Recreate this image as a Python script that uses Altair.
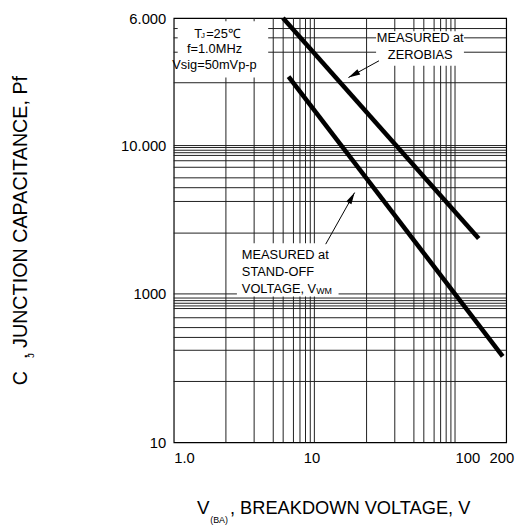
import altair as alt
import pandas as pd

FONT = "Liberation Sans, Arial, Helvetica, sans-serif"

# ---------------- axes (log-log) ----------------
x_domain = [1, 231]
x_tick_values = [1, 10, 100, 200]
x_tick_labels = ["1.0", "10", "100", "200"]
x_grid_values = [2.35, 3.73, 5.1, 6.0, 7.1, 7.9, 8.65, 9.35, 10,
                 23.5, 37.3, 51, 60, 71, 79, 86.5, 93.5, 100]

y_domain = [10, 7230]
y_tick_values = [10, 100, 1000, 7230]
y_tick_labels = ["10", "1000", "10.000", "6.000"]
y_grid_values = [25.7, 41.7, 50.9, 59.3, 69.1, 79.7, 83.0, 86.5, 90.1, 93.8, 100,
                 257, 420, 520, 606, 714, 790, 858, 895, 930, 970, 1000,
                 2651, 4258, 5323, 6148]

# ---------------- curves ----------------
zero_bias_v = [5.98, 147.4]
zero_bias_c = [7230, 236]
standoff_v = [6.55, 218.3]
standoff_c = [2918, 38.0]

# ---------------- annotations ----------------
box_x1 = [1.067, 27.46, 2.813]
box_x2 = [4.695, 115.7, 14.86]
box_y1 = [2874, 3453, 96.2]
box_y2 = [6874, 5899, 219.9]

note_text = ["T", "J", "=25\u2103", "f=1.0MHz", "Vsig=50mVp-p",
             "MEASURED at", "ZEROBIAS",
             "MEASURED at", "STAND-OFF", "VOLTAGE, V", "WM"]
note_x = [1.397, 1.565, 1.70, 1.949, 1.949, 56.6, 56.6, 3.05, 3.05, 3.05, 10.3]
note_y = [5634, 5465, 5634, 4479, 3469, 5301, 4105, 183, 141.1, 107.1, 104.7]
note_size = [13, 8, 13, 13, 13, 13, 13, 13, 13, 13, 9]
note_align = ["left", "left", "left", "center", "center", "center", "center",
              "left", "left", "left", "left"]

arrow_x1 = [28.8, 12.04]
arrow_y1 = [3727, 216.5]
arrow_x2 = [17.47, 19.33]
arrow_y2 = [2874, 482]
arrow_angle = [241.3, 29.3]

xs = alt.Scale(type="log", domain=x_domain, nice=False)
ys = alt.Scale(type="log", domain=y_domain, nice=False)


def label_expr(vals, labels):
    parts = [f"datum.value == {v} ? '{l}' : " for v, l in zip(vals, labels)]
    return "".join(parts) + "''"


x_axis = alt.Axis(values=x_tick_values, labelExpr=label_expr(x_tick_values, x_tick_labels),
                  grid=False, ticks=False, domain=False, labelFontSize=15,
                  labelPadding=8, labelFlush=False, labelOverlap=False,
                  labelAlign={"condition": {"test": "datum.value == 1 || datum.value == 100",
                                            "value": "left"}, "value": "center"},
                  labelOffset={"condition": [{"test": "datum.value == 10", "value": -3},
                                             {"test": "datum.value == 200", "value": 4}],
                               "value": 0})
y_axis = alt.Axis(values=y_tick_values, labelExpr=label_expr(y_tick_values, y_tick_labels),
                  grid=False, ticks=False, domain=False, labelFontSize=15,
                  labelPadding=8, labelFlush=False, labelOverlap=False)


def X(field):
    return alt.X(field, scale=xs, axis=x_axis, title="")


def Y(field):
    return alt.Y(field, scale=ys, axis=y_axis, title="")


curves = pd.DataFrame({
    "v": zero_bias_v + standoff_v,
    "c": zero_bias_c + standoff_c,
    "s": ["zero"] * len(zero_bias_v) + ["standoff"] * len(standoff_v),
})

vgrid = alt.Chart(pd.DataFrame({"v": x_grid_values})).mark_rule(
    color="#1e1e1e", strokeWidth=1).encode(x=X("v:Q"))
hgrid = alt.Chart(pd.DataFrame({"c": y_grid_values})).mark_rule(
    color="#1e1e1e", strokeWidth=1).encode(y=Y("c:Q"))

boxes = alt.Chart(pd.DataFrame({"x1": box_x1, "x2": box_x2, "y1": box_y1, "y2": box_y2})).mark_rect(
    color="white").encode(x=X("x1:Q"), x2="x2:Q", y=Y("y1:Q"), y2="y2:Q")

lines = alt.Chart(curves).mark_line(color="black", strokeWidth=4.6, strokeCap="butt").encode(
    x=X("v:Q"), y=Y("c:Q"), detail="s:N")

notes = pd.DataFrame({"x": note_x, "y": note_y, "t": note_text, "fs": note_size, "al": note_align})


def note_layer(al):
    return alt.Chart(notes[notes["al"] == al]).mark_text(
        align=al, baseline="middle", color="black", font=FONT).encode(
        x=X("x:Q"), y=Y("y:Q"),
        text="t:N", size=alt.Size("fs:Q", scale=None, legend=None))


arrows = pd.DataFrame({"x1": arrow_x1, "y1": arrow_y1, "x2": arrow_x2, "y2": arrow_y2, "a": arrow_angle})
shafts = alt.Chart(arrows).mark_rule(color="black", strokeWidth=1).encode(
    x=X("x1:Q"), y=Y("y1:Q"), x2="x2:Q", y2="y2:Q")
heads = alt.Chart(arrows).mark_point(
    shape="M0,0 L0.25,1 L-0.25,1 Z", filled=True, size=576, color="black", opacity=1,
    strokeWidth=0).encode(x=X("x2:Q"), y=Y("y2:Q"), angle=alt.Angle("a:Q", scale=None))

# axis titles (with subscripts) placed outside the plot area, in pixels
title_text = ["V", "(BA)", ", BREAKDOWN VOLTAGE, V", "C", "J", ",   JUNCTION CAPACITANCE, Pf"]
title_px = [23.5, 37, 57, -154.5, -145, -154.5]
title_py = [497, 508.5, 497, 372.3, 344.5, 345.5]
title_fs = [19, 9, 18.5, 20, 10, 20]
title_ang = [0, 0, 0, 270, 270, 270]

tdf = pd.DataFrame({"k": [0]})
titles = []
for t, px, py, fs, an in zip(title_text, title_px, title_py, title_fs, title_ang):
    titles.append(alt.Chart(tdf).mark_text(
        text=t, align="left", baseline="middle", fontSize=fs, angle=an,
        color="black", font=FONT).encode(x=alt.value(px), y=alt.value(py)))

chart = alt.layer(vgrid, hgrid, boxes, lines, note_layer("left"), note_layer("center"),
                  shafts, heads, *titles).properties(
    width=337, height=430,
    padding={"left": 168, "top": 6.7, "right": 12, "bottom": 80},
    autosize=alt.AutoSizeParams(type="none"),
    background="white",
).configure_view(stroke="black", strokeWidth=1.2).configure_axis(
    labelFont=FONT, labelColor="black").configure_text(font=FONT)

chart.save("out.html", embed_options={"renderer": "svg", "actions": False})
